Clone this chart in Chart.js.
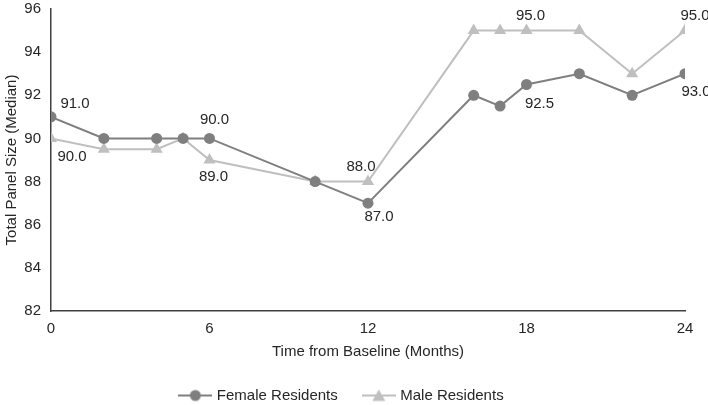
<!DOCTYPE html>
<html>
<head>
<meta charset="utf-8">
<script src="https://cdn.jsdelivr.net/npm/chart.js@4/dist/chart.umd.min.js"></script>
<style>
  html, body { margin: 0; padding: 0; background: #fff; }
  #wrap { width: 708px; height: 405px; }
</style>
</head>
<body>
<div id="wrap"><canvas id="myChart"></canvas></div>
<script>
// months from baseline
var months = [0, 2, 4, 5, 6, 10, 12, 16, 17, 18, 20, 22, 24];
var female = [91, 90, 90, 90, 90, 88, 87, 92, 91.5, 92.5, 93, 92, 93];
var male = [90, 89.5, 89.5, 90, 89, 88, 88, 95, 95, 95, 95, 93, 95];
var xTicks = [0, 6, 12, 18, 24];
var yTicks = [82, 84, 86, 88, 90, 92, 94, 96];

var femaleColor = '#7f7f7f';
var maleColor = '#bfbfbf';
var textColor = '#262626';
var axisColor = '#404040';
var fontFamily = '"Liberation Sans", Arial, sans-serif';

function toPoints(vals) {
    return months.map(function (m, i) { return { x: m, y: vals[i] }; });
}

// little line+marker images for the legend
function legendIcon(color, shape) {
    var c = document.createElement('canvas');
    c.width = 34; c.height = 14;
    var g = c.getContext('2d');
    g.strokeStyle = color; g.fillStyle = color; g.lineWidth = 2;
    g.beginPath(); g.moveTo(0, 7); g.lineTo(34, 7); g.stroke();
    g.beginPath();
    if (shape === 'circle') {
        g.arc(17, 7, 5.5, 0, Math.PI * 2);
    } else {
        g.moveTo(17, 1); g.lineTo(23.5, 12.5); g.lineTo(10.5, 12.5); g.closePath();
    }
    g.fill();
    return c;
}

// value labels next to selected points: [datasetIndex, pointIndex, dx, dy]
var valueLabels = {
    id: 'valueLabels',
    afterDatasetsDraw: function (chart, args, opts) {
        var ctx = chart.ctx;
        ctx.save();
        ctx.font = '15px ' + fontFamily;
        ctx.fillStyle = textColor;
        ctx.textAlign = 'center';
        ctx.textBaseline = 'middle';
        opts.items.forEach(function (it) {
            var pt = chart.getDatasetMeta(it[0]).data[it[1]];
            var v = chart.data.datasets[it[0]].data[it[1]].y;
            ctx.fillText(v.toFixed(1), pt.x + it[2], pt.y + it[3]);
        });
        ctx.restore();
    }
};

var ctx = document.getElementById('myChart').getContext('2d');
var chart = new Chart(ctx, {
    type: 'line',
    data: {
        datasets: [{
            label: 'Female Residents',
            data: toPoints(female),
            borderColor: femaleColor,
            backgroundColor: femaleColor,
            borderWidth: 2,
            pointStyle: 'circle',
            pointRadius: 5.5,
            pointBorderWidth: 0,
            lineTension: 0,
            fill: false
        }, {
            label: 'Male Residents',
            data: toPoints(male),
            borderColor: maleColor,
            backgroundColor: maleColor,
            borderWidth: 2,
            pointStyle: 'triangle',
            pointRadius: 7,
            pointBorderWidth: 0,
            lineTension: 0,
            fill: false
        }]
    },
    options: {
        responsive: true,
        maintainAspectRatio: false,
        animation: false,
        layout: { padding: { top: 0, right: 23, bottom: 0, left: 0 } },
        plugins: {
            tooltip: { enabled: false },
            legend: {
                position: 'bottom',
                maxHeight: 44,
                labels: {
                    usePointStyle: true,
                    pointStyleWidth: 28,
                    color: textColor,
                    padding: 27,
                    font: { size: 15, family: fontFamily },
                    generateLabels: function (ch) {
                        return ch.data.datasets.map(function (ds, i) {
                            return {
                                text: ds.label,
                                pointStyle: legendIcon(ds.borderColor, i === 0 ? 'circle' : 'triangle'),
                                fillStyle: ds.borderColor,
                                strokeStyle: ds.borderColor,
                                lineWidth: 0,
                                fontColor: textColor,
                                datasetIndex: i
                            };
                        });
                    }
                }
            },
            valueLabels: {
                items: [
                    [0, 0, 24, -13], [0, 4, 5, -19], [0, 6, 11, 14], [0, 9, 13, 19], [0, 12, 11, 18],
                    [1, 0, 21, 18], [1, 4, 4, 17], [1, 6, -7, -15], [1, 9, 4, -15], [1, 12, 10, -15]
                ]
            }
        },
        scales: {
            x: {
                type: 'linear',
                min: 0, max: 24,
                afterBuildTicks: function (s) { s.ticks = xTicks.map(function (v) { return { value: v }; }); },
                afterFit: function (s) { s.height = 50; },
                grid: { display: false, drawTicks: true, tickLength: 5, tickColor: axisColor },
                border: { color: axisColor, width: 1.5 },
                ticks: { color: textColor, padding: 4, font: { size: 15, family: fontFamily } },
                title: {
                    display: true, text: 'Time from Baseline (Months)', color: textColor,
                    padding: { top: 4, bottom: 0 },
                    font: { size: 15, family: fontFamily }
                }
            },
            y: {
                min: 82, max: 96,
                afterBuildTicks: function (s) { s.ticks = yTicks.map(function (v) { return { value: v }; }); },
                afterFit: function (s) { s.width = 51; s.paddingTop = 9; },
                grid: { display: false, drawTicks: true, tickLength: 6, tickColor: axisColor },
                border: { color: axisColor, width: 1.5 },
                ticks: { color: textColor, padding: 4, font: { size: 15, family: fontFamily } },
                title: {
                    display: true, text: 'Total Panel Size (Median)', color: textColor,
                    padding: { top: 3, bottom: 0 },
                    font: { size: 15, family: fontFamily }
                }
            }
        }
    },
    plugins: [valueLabels]
});
</script>
</body>
</html>
